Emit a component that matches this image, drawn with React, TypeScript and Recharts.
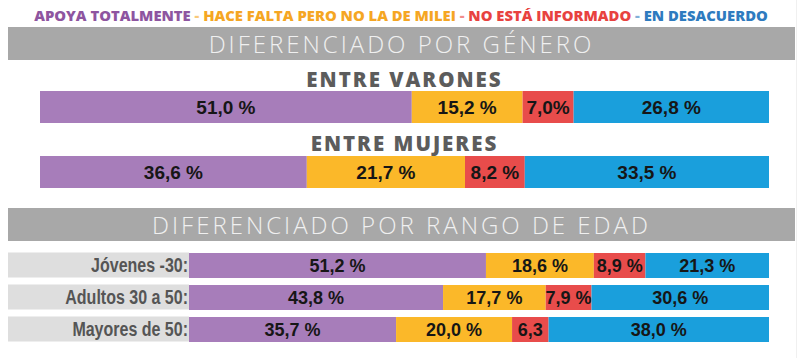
import React from "react";
import { BarChart, Bar, XAxis, YAxis, LabelList } from "recharts";

// series (order = stacking order, left to right)
const seriesKeys = ["apoya", "falta", "noInf", "desac"];
const seriesNames = [
  "APOYA TOTALMENTE",
  "HACE FALTA PERO NO LA DE MILEI",
  "NO ESTÁ INFORMADO",
  "EN DESACUERDO",
];
const barColors = ["#A77DBA", "#FBB829", "#E84C4B", "#1A9FDC"];
const legendColors = ["#8E55A0", "#F5A623", "#E8423F", "#2E7BBF"];

// por género
const generoCats = ["ENTRE VARONES", "ENTRE MUJERES"];
const generoValues = [
  [51.0, 15.2, 7.0, 26.8],
  [36.6, 21.7, 8.2, 33.5],
];
const generoLabels = [
  ["51,0 %", "15,2 %", "7,0%", "26,8 %"],
  ["36,6 %", "21,7 %", "8,2 %", "33,5 %"],
];

// por rango de edad
const edadCats = ["Jóvenes -30:", "Adultos 30 a 50:", "Mayores de 50:"];
const edadValues = [
  [51.2, 18.6, 8.9, 21.3],
  [43.8, 17.7, 7.9, 30.6],
  [35.7, 20.0, 6.3, 38.0],
];
const edadLabels = [
  ["51,2 %", "18,6 %", "8,9 %", "21,3 %"],
  ["43,8 %", "17,7 %", "7,9 %", "30,6 %"],
  ["35,7 %", "20,0 %", "6,3", "38,0 %"],
];

const toRow = (name: string, vals: number[], lbls: string[]) => {
  const row: Record<string, string | number> = { name };
  seriesKeys.forEach((k, i) => {
    row[k] = vals[i];
    row[k + "Lbl"] = lbls[i];
  });
  return row;
};

const generoData = generoCats.map((c, i) => toRow(c, generoValues[i], generoLabels[i]));
const edadData = edadCats.map((c, i) => toRow(c, edadValues[i], edadLabels[i]));

const SANS = "'Liberation Sans', Arial, sans-serif";
const YAXIS_W = 181;

const renderBars = (fontSize: number) =>
  seriesKeys.map((k, i) => (
    <Bar key={k} dataKey={k} stackId="a" fill={barColors[i]} isAnimationActive={false}>
      <LabelList
        dataKey={k + "Lbl"}
        position="center"
        fill="#161616"
        fontSize={fontSize}
        fontWeight="bold"
        fontFamily={SANS}
      />
    </Bar>
  ));

const EdadTick = (props: any) => {
  const { x, y, payload } = props;
  return (
    <g>
      <rect x={0} y={y - 12.5} width={YAXIS_W} height={25} fill="#DEDEDE" />
      <text
        transform={`translate(${x},${y}) scale(0.8,1)`}
        x={0}
        y={0}
        dy={7}
        textAnchor="end"
        fill="#555"
        fontSize={20}
        fontWeight="bold"
        fontFamily={SANS}
      >
        {payload.value}
      </text>
    </g>
  );
};

const Header = ({ text, top }: { text: string; top: number }) => (
  <div
    style={{
      position: "absolute",
      left: 8,
      top,
      width: 787,
      height: 33,
      background: "#A8A8A8",
      color: "#F0F0F0",
      fontFamily: "'Open Sans', sans-serif",
      fontWeight: 300,
      fontSize: 24,
      letterSpacing: 3,
      lineHeight: "33px",
      textAlign: "center",
    }}
  >
    {text}
  </div>
);

const SubTitle = ({ text, top }: { text: string; top: number }) => (
  <div
    style={{
      position: "absolute",
      left: 40,
      width: 729,
      top,
      textAlign: "center",
      fontFamily: "'Open Sans', sans-serif",
      fontWeight: 800,
      fontSize: 20.5,
      letterSpacing: 2,
      lineHeight: "20px",
      color: "#5c5c5c",
      whiteSpace: "nowrap",
    }}
  >
    {text}
  </div>
);

const GeneroBar = ({ row, top }: { row: Record<string, string | number>; top: number }) => (
  <div style={{ position: "absolute", left: 40, top }}>
    <BarChart
      width={729}
      height={32}
      data={[row]}
      layout="vertical"
      margin={{ top: 0, right: 0, left: 0, bottom: 0 }}
      barCategoryGap={0}
    >
      <XAxis type="number" domain={[0, 100]} hide />
      <YAxis type="category" dataKey="name" hide />
      {renderBars(19)}
    </BarChart>
  </div>
);

const App = () => {
  return (
    <div
      style={{
        position: "absolute",
        left: 0,
        top: 0,
        width: 802,
        height: 358,
        background: "#fff",
        overflow: "hidden",
      }}
    >
      <div
        style={{
          position: "absolute",
          top: 5,
          left: 0,
          width: 802,
          textAlign: "center",
          fontFamily: "'Open Sans', sans-serif",
          fontWeight: 800,
          fontSize: 14.8,
          lineHeight: "20px",
          whiteSpace: "nowrap",
        }}
      >
        {seriesNames.map((n, i) => (
          <span key={n}>
            {i > 0 && <span style={{ color: legendColors[i], opacity: 0.6 }}> - </span>}
            <span style={{ color: legendColors[i] }}>{n}</span>
          </span>
        ))}
      </div>

      <div style={{ position: "absolute", left: 796, top: 0, width: 1, height: 358, background: "#f0f0f0" }} />

      <Header text="DIFERENCIADO POR GÉNERO" top={27} />
      <SubTitle text={generoCats[0]} top={69} />
      <GeneroBar row={generoData[0]} top={91} />
      <SubTitle text={generoCats[1]} top={133} />
      <GeneroBar row={generoData[1]} top={156} />

      <Header text="DIFERENCIADO POR RANGO DE EDAD" top={208} />

      <div style={{ position: "absolute", left: 8, top: 249 }}>
        <BarChart
          width={761}
          height={96}
          data={edadData}
          layout="vertical"
          margin={{ top: 0, right: 0, left: 0, bottom: 0 }}
          barSize={25}
        >
          <XAxis type="number" domain={[0, 100]} hide />
          <YAxis
            type="category"
            dataKey="name"
            width={YAXIS_W}
            axisLine={false}
            tickLine={false}
            tickSize={0}
            tickMargin={1}
            tick={<EdadTick />}
          />
          {renderBars(18)}
        </BarChart>
      </div>
    </div>
  );
};

export default App;
